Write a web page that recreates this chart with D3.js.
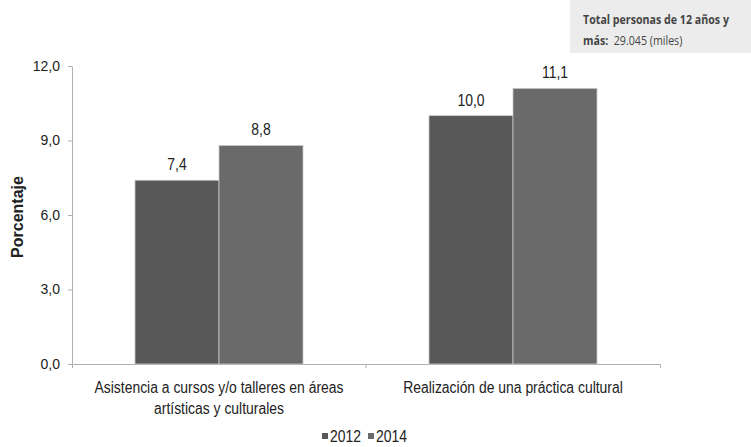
<!DOCTYPE html>
<html>
<head>
<meta charset="utf-8">
<script src="https://cdn.jsdelivr.net/npm/d3@7"></script>
<style>
    body { margin: 0; background: #fff; }
    svg { display: block; }
</style>
</head>
<body>
<div id="chart"></div>
<script>
// categories and series
const categories = [
    ["Asistencia a cursos y/o talleres en áreas", "artísticas y culturales"],
    ["Realización de una práctica cultural"]
];
const seriesNames = ["2012", "2014"];
const values2012 = [7.4, 10.0];
const values2014 = [8.8, 11.1];
const yTicks = [0, 3, 6, 9, 12];

const width = 751, height = 447;
const margin = {top: 66, right: 91, bottom: 83, left: 72};
const sans = "'Liberation Sans', Arial, sans-serif";
const narrowScale = 0.87; // the reference text looks like Arial Narrow
const colors = {"2012": "#585858", "2014": "#6a6a6a"};
const fmt = d => d3.format(".1f")(d).replace(".", ",");

const svg = d3.select("#chart").append("svg")
    .attr("width", width)
    .attr("height", height);

// text squeezed horizontally, placed at x,y
function narrowText(parent, x, y, size) {
    return parent.append("text")
        .attr("transform", "translate(" + x + "," + y + ") scale(" + narrowScale + ",1)")
        .style("font-family", sans)
        .style("font-size", size + "px")
        .attr("fill", "#222");
}

const x0 = d3.scaleBand()
    .domain(d3.range(categories.length))
    .range([margin.left, width - margin.right]);

const x1 = d3.scaleBand()
    .domain(seriesNames)
    .range([0, x0.bandwidth()])
    .paddingInner(0)
    .paddingOuter(0.75);

const y = d3.scaleLinear()
    .domain([0, 12])
    .range([height - margin.bottom, margin.top]);

// y axis
const yAxis = svg.append("g")
    .attr("transform", "translate(" + margin.left + ",0)")
    .call(d3.axisLeft(y).tickValues(yTicks).tickSize(4).tickSizeOuter(0).tickFormat(fmt));
yAxis.select(".domain").attr("stroke", "#b0b0b0");
yAxis.selectAll(".tick line").attr("stroke", "#b0b0b0");
yAxis.selectAll(".tick text")
    .attr("x", -12)
    .style("font-family", sans)
    .style("font-size", "14px")
    .attr("fill", "#222");

// x axis
const xAxis = svg.append("g")
    .attr("transform", "translate(0," + y(0) + ")")
    .call(d3.axisBottom(x0).tickValues([]).tickSizeOuter(4));
xAxis.select(".domain").attr("stroke", "#b0b0b0");

// separators between categories
xAxis.selectAll("line.sep")
    .data(d3.range(1, categories.length))
    .enter().append("line")
    .attr("class", "sep")
    .attr("x1", d => x0(d)).attr("x2", d => x0(d))
    .attr("y1", 0).attr("y2", 4)
    .attr("stroke", "#b0b0b0");

// bars
const groups = svg.append("g").selectAll("g")
    .data(categories.map((c, i) => ({i: i, vals: [values2012[i], values2014[i]]})))
    .enter().append("g")
    .attr("transform", d => "translate(" + x0(d.i) + ",0)");

groups.selectAll("rect")
    .data(d => d.vals.map((v, k) => ({series: seriesNames[k], value: v})))
    .enter().append("rect")
    .attr("x", d => x1(d.series))
    .attr("y", d => y(d.value))
    .attr("width", x1.bandwidth())
    .attr("height", d => y(0) - y(d.value))
    .attr("fill", d => colors[d.series])
    .attr("stroke", "#c8c8c8")
    .attr("stroke-width", 0.8);

// value labels
groups.each(function (d) {
    const g = d3.select(this);
    d.vals.forEach((v, k) => {
        narrowText(g, x1(seriesNames[k]) + x1.bandwidth() / 2, y(v) - 10, 16)
            .attr("text-anchor", "middle")
            .text(fmt(v));
    });
});

// category labels
categories.forEach((lines, i) => {
    lines.forEach((line, k) => {
        narrowText(svg, x0(i) + x0.bandwidth() / 2, y(0) + 29 + k * 21, 16)
            .attr("text-anchor", "middle")
            .text(line);
    });
});

// y axis title
svg.append("text")
    .attr("transform", "translate(23," + ((margin.top + y(0)) / 2 + 2) + ") rotate(-90)")
    .attr("text-anchor", "middle")
    .style("font-family", sans)
    .style("font-weight", "bold")
    .style("font-size", "16px")
    .attr("fill", "#222")
    .text("Porcentaje");

// legend
const legendX = (x0.range()[0] + x0.range()[1]) / 2;
const legend = svg.append("g")
    .attr("transform", "translate(" + legendX + ",442)");
seriesNames.forEach((s, i) => {
    const item = legend.append("g")
        .attr("transform", "translate(" + (i * 46 - 44) + ",0)");
    item.append("rect")
        .attr("x", 0).attr("y", -9)
        .attr("width", 6).attr("height", 6)
        .attr("fill", colors[s]);
    narrowText(item, 8, 0, 16).text(s);
});

// note box, top right
const note = svg.append("g").attr("transform", "translate(570,0)");
note.append("rect")
    .attr("width", 181).attr("height", 53)
    .attr("fill", "#ececec");
note.append("text")
    .attr("transform", "translate(13,24) scale(0.82,1)")
    .style("font-family", "'Open Sans', sans-serif")
    .style("font-size", "13px")
    .style("font-weight", "bold")
    .attr("fill", "#444")
    .text("Total personas de 12 años y");
const line2 = note.append("text")
    .attr("transform", "translate(13,45) scale(0.82,1)")
    .style("font-family", "'Open Sans', sans-serif")
    .style("font-size", "13px")
    .attr("fill", "#444");
line2.append("tspan").style("font-weight", "bold").text("más:");
line2.append("tspan").text("\u00a0 29.045 (miles)");
</script>
</body>
</html>
